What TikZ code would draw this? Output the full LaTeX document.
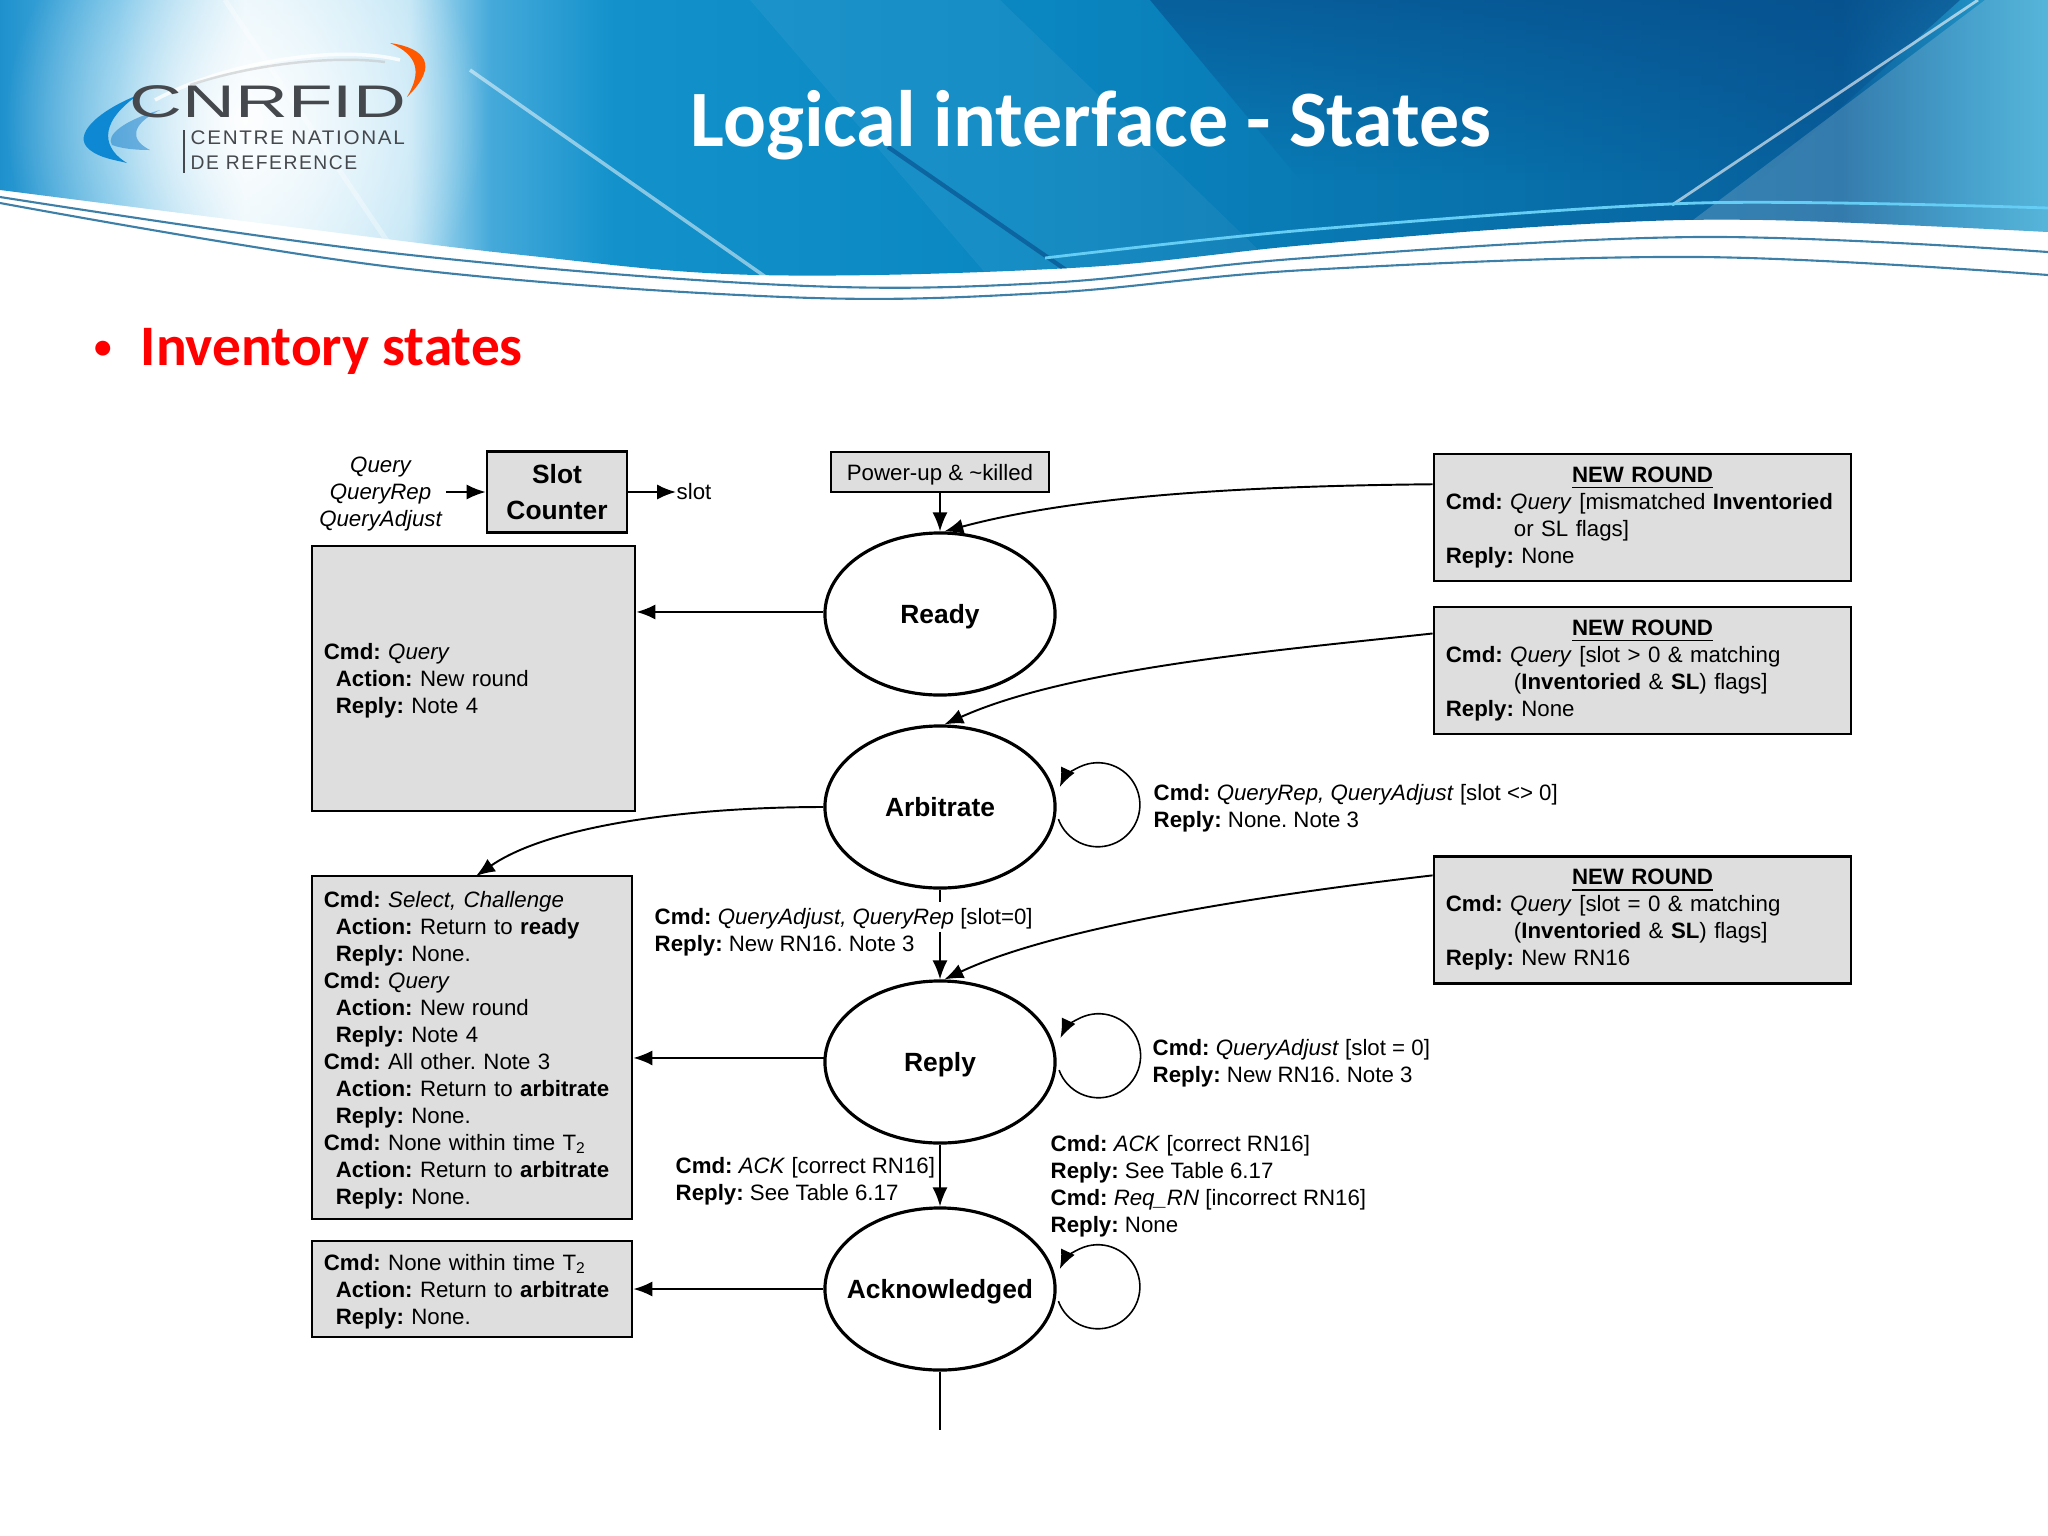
\documentclass[tikz,border=0pt]{standalone}
\usepackage{fontspec}
\usepackage{tikz}
\usetikzlibrary{shapes.geometric,fadings,arrows.meta}
\setmainfont{Liberation Sans}
\newfontfamily\slidefont{Carlito}
\newfontfamily\logofont[LetterSpace=8]{Liberation Sans}
\definecolor{boxgray}{HTML}{DEDEDF}
\definecolor{wavecol}{HTML}{3E7FA8}
\definecolor{deepblue}{HTML}{064A88}
\definecolor{logogray}{HTML}{45484D}
\definecolor{bannera}{HTML}{1E91CD}
\definecolor{bannerb}{HTML}{5FB9E4}
\definecolor{bannerc}{HTML}{E1F3FB}
\definecolor{bannerd}{HTML}{BEE4F5}
\definecolor{bannere}{HTML}{46AADA}
\definecolor{bannerf}{HTML}{1291CB}
\definecolor{bannerg}{HTML}{0A87C1}
\definecolor{bannerh}{HTML}{0870AA}
\definecolor{banneri}{HTML}{085F9B}
\definecolor{bannerj}{HTML}{1E8CC0}
\definecolor{bannerk}{HTML}{32A5D2}
\tikzfading[name=softglow,inner color=transparent!0,outer color=transparent!100]
\newcommand{\kcmd}{\textbf{Cmd:}}
\newcommand{\kact}{\hspace*{0.12cm}\textbf{Action:}}
\newcommand{\krep}{\hspace*{0.12cm}\textbf{Reply:}}
\newcommand{\brep}{\textbf{Reply:}}
\newcommand{\wrap}{\hspace*{0.68cm}}
\newcommand{\boxfont}{\frenchspacing\fontsize{6.33}{7.68}\selectfont}
\newcommand{\statefont}{\fontsize{7.5}{10}\selectfont\bfseries}
\newcommand{\bannerpath}{(0,0) -- (2048,0) -- (2048,232) -- plot[smooth,tension=0.6] coordinates {(2048,232) (1763,220) (1567,225) (1306,245) (1071,268) (757,275) (522,255) (261,223) (0,190)} -- cycle}

\begin{document}
\begin{tikzpicture}[x=0.01cm,y=-0.01cm,>={Latex[length=5.4pt,width=4.3pt]},
    state/.style={ellipse,draw,line width=0.9pt,fill=white,minimum width=2.30cm,minimum height=1.62cm,inner sep=0pt,font=\statefont,text depth=0pt},
    infobox/.style={rectangle,draw,line width=0.75pt,fill=boxgray,inner xsep=0.12cm,inner ysep=0pt,align=left,font=\boxfont},
    sidebox/.style={infobox,text width=2.96cm,execute at begin node={\rule{0pt}{6pt}}},
    roundbox/.style={infobox,text width=3.93cm,minimum height=1.27cm},
    note/.style={inner sep=0pt,align=left,anchor=west,font=\boxfont},
    flow/.style={->,line width=0.55pt},
    wave/.style={wavecol,line width=0.6pt}]
\useasboundingbox (0,0) rectangle (2048,1536);

% banner
\begin{scope}
\clip \bannerpath;
\foreach \xa/\xb/\ca/\cb in {0/120/bannera/bannerb,119/245/bannerb/bannerc,244/410/bannerc/bannerd,409/490/bannerd/bannere,489/615/bannere/bannerf,614/1024/bannerf/bannerg,1023/1516/bannerg/bannerh,1515/1843/bannerh/banneri,1842/1966/banneri/bannerj,1965/2048/bannerj/bannerk}
  \shade[left color=\ca,right color=\cb] (\xa,0) rectangle (\xb,290);
\fill[deepblue,opacity=0.6,path fading=south] (1150,0) -- (1960,0) -- (1760,180) -- (1300,180) -- cycle;
\fill[white,opacity=0.18] (1985,0) -- (2048,0) -- (2048,260) -- (1640,260) -- cycle;
\fill[white,opacity=0.05] (750,0) -- (1000,0) -- (1300,290) -- (1000,290) -- cycle;
\fill[white,opacity=0.95,path fading=softglow] (245,120) ellipse (240 and 240);
\draw[white,opacity=0.5,line width=1pt] (470,70) -- (770,280);
\draw[white,opacity=0.35,line width=1.4pt] (225,0) -- (420,290);
\draw[deepblue,opacity=0.6,line width=1.2pt] (888,147) -- (1066,270);
\draw[white,opacity=0.6,line width=0.8pt] (1978,0) -- (1672,205);
\draw[cyan!60!white,line width=0.8pt] plot[smooth] coordinates {(1045,258) (1306,230) (1698,203) (2048,208)};
\end{scope}
\draw[wave] plot[smooth,tension=0.6] coordinates {(0,197) (392,253) (784,285) (1045,283) (1306,258) (1698,237) (2048,252)};
\draw[wave] plot[smooth,tension=0.6] coordinates {(0,203) (392,267) (784,297) (1045,293) (1306,270) (1698,257) (2048,275)};

% logo
\fill[cyan!70!blue] (138,95) .. controls (100,110) and (70,135) .. (90,150) .. controls (100,158) and (115,160) .. (127,163) .. controls (105,150) and (95,125) .. cycle;
\fill[cyan!60!blue,opacity=0.5] (160,110) .. controls (125,120) and (105,135) .. (112,145) .. controls (125,150) and (145,150) .. (150,150) .. controls (130,140) and (130,125) .. cycle;
\draw[white,opacity=0.8,line width=1pt] (155,100) .. controls (230,60) and (340,45) .. (400,60);
\draw[gray!50,opacity=0.5,line width=0.7pt] (190,85) .. controls (250,65) and (330,55) .. (385,62);
\fill[orange!70!red] (390,43) .. controls (425,48) and (440,65) .. (407,97) .. controls (422,72) and (418,55) .. cycle;
\node[inner sep=0pt,xscale=1.6,text=logogray] (logoname) at (268,102) {\fontsize{13}{13}\selectfont CNRFID};
\node[inner sep=0pt,anchor=west,xscale=1.05,text=logogray] (logoline1) at (190,138) {\logofont\fontsize{5.6}{6}\selectfont CENTRE NATIONAL};
\node[inner sep=0pt,anchor=west,xscale=0.98,text=logogray] (logoline2) at (190,163) {\logofont\fontsize{5.6}{6}\selectfont DE REFERENCE};
\draw[logogray,line width=0.3pt] (184,130) -- (184,173);

% headings
\node[text=white,inner sep=0pt] (title) at (1091,125) {\slidefont\fontsize{22.75}{23}\selectfont\bfseries Logical interface - States};
\node[text=red,inner sep=0pt] (bullet) at (103,350) {\slidefont\fontsize{10}{10}\selectfont\bfseries •};
\node[text=red,inner sep=0pt,anchor=west] (subtitle) at (140,351) {\slidefont\fontsize{16.3}{16.3}\selectfont\bfseries Inventory states};

% states
\node[state] (ready) at (940,614) {Ready};
\node[state] (arbitrate) at (940,807) {Arbitrate};
\node[state] (reply) at (940,1062) {Reply};
\node[state,label={[font=\statefont,yshift=-0.75pt]center:Acknowledged}] (ack) at (940,1289) {};

% boxes
\node[infobox,font=\statefont,align=center,minimum width=1.40cm,minimum height=0.81cm,inner xsep=0pt] (slot) at (557,492) {Slot\\Counter};
\node[infobox,align=center,minimum width=2.18cm,minimum height=0.40cm,inner xsep=0pt,text depth=0pt] (power) at (940,472) {Power-up \& \textasciitilde killed};
\node[sidebox,minimum height=2.65cm,text width=2.99cm] (boxa) at (473.5,678.5) {\kcmd{} \textit{Query}\\
\kact{} New round\\
\krep{} Note 4};
\node[sidebox,minimum height=3.43cm] (boxb) at (472,1047.5) {\kcmd{} \textit{Select, Challenge}\\
\kact{} Return to \textbf{ready}\\
\krep{} None.\\
\kcmd{} \textit{Query}\\
\kact{} New round\\
\krep{} Note 4\\
\kcmd{} All other. Note 3\\
\kact{} Return to \textbf{arbitrate}\\
\krep{} None.\\
\kcmd{} None within time T\textsubscript{2}\\
\kact{} Return to \textbf{arbitrate}\\
\krep{} None.};
\node[sidebox,minimum height=0.96cm] (boxc) at (472,1289) {\kcmd{} None within time T\textsubscript{2}\\
\kact{} Return to \textbf{arbitrate}\\
\krep{} None.};
\node[roundbox] (rounda) at (1642.5,517.5) {\makebox[\linewidth]{\textbf{\underline{NEW ROUND}}}\\
\kcmd{} \textit{Query} [mismatched \textbf{Inventoried}\\
\wrap or SL flags]\\
\brep{} None};
\node[roundbox] (roundb) at (1642.5,670.5) {\makebox[\linewidth]{\textbf{\underline{NEW ROUND}}}\\
\kcmd{} \textit{Query} [slot > 0 \& matching\\
\wrap (\textbf{Inventoried} \& \textbf{SL}) flags]\\
\brep{} None};
\node[roundbox] (roundc) at (1642.5,920) {\makebox[\linewidth]{\textbf{\underline{NEW ROUND}}}\\
\kcmd{} \textit{Query} [slot = 0 \& matching\\
\wrap (\textbf{Inventoried} \& \textbf{SL}) flags]\\
\brep{} New RN16};

% labels
\node[inner sep=1pt,align=center,font=\boxfont\itshape,anchor=east] (slotin) at (446,494) {Query\\QueryRep\\QueryAdjust};
\node[note] (slotout) at (676,492) {slot};
\node[note] (labarb) at (1153,808) {\kcmd{} \textit{QueryRep, QueryAdjust} [slot <> 0]\\\brep{} None. Note 3};
\node[note] (labrep) at (1152,1063) {\kcmd{} \textit{QueryAdjust} [slot = 0]\\\brep{} New RN16. Note 3};
\node[note] (labdown) at (654,932) {\kcmd{} \textit{QueryAdjust, QueryRep} [slot=0]\\\brep{} New RN16. Note 3};
\node[note] (labackin) at (675,1181) {\kcmd{} \textit{ACK} [correct RN16]\\\brep{} See Table 6.17};
\node[note] (labackloop) at (1050,1186) {\kcmd{} \textit{ACK} [correct RN16]\\\brep{} See Table 6.17\\\kcmd{} \textit{Req\_RN} [incorrect RN16]\\\brep{} None};

% connectors
\coordinate (gaptop) at (940,902);
\coordinate (gapbot) at (940,932);
\coordinate (tail) at (940,1430);
\coordinate (boxbtop) at (476,876);
\draw[flow] (slotin.east |- slot.west) -- (slot.west);
\draw[flow] (slot.east) -- (slotout.west);
\draw[flow] (power.south) -- (ready.north);
\draw[flow] (rounda.171.4) .. controls (1250,486) and (1080,495) .. (ready.87);
\draw[flow] (roundb.170.6) .. controls (1280,650) and (1070,668) .. (arbitrate.87);
\draw[flow] (roundc.168.6) .. controls (1280,893) and (1060,925) .. (reply.87);
\draw[flow] (arbitrate.west) .. controls (690,807) and (550,825) .. (boxbtop);
\draw[flow] (ready.179) -- (ready.179 -| boxa.east);
\draw[flow] (reply.178) -- (reply.178 -| boxb.east);
\draw[flow] (ack.west) -- (ack.west -| boxc.east);
\draw[line width=0.55pt] (arbitrate.south) -- (gaptop);
\draw[flow] (gapbot) -- (reply.north);
\draw[flow] (reply.south) -- (ack.north);
\draw[line width=0.55pt] (ack.south) -- (tail);
\foreach \st/\ang in {arbitrate/-6,reply/-4,ack/-6}
  \draw[flow,line width=0.45pt] ([xshift=0.03cm]\st.\ang) arc[start angle=200,delta angle=315,radius=0.42cm];
\end{tikzpicture}
\end{document}
